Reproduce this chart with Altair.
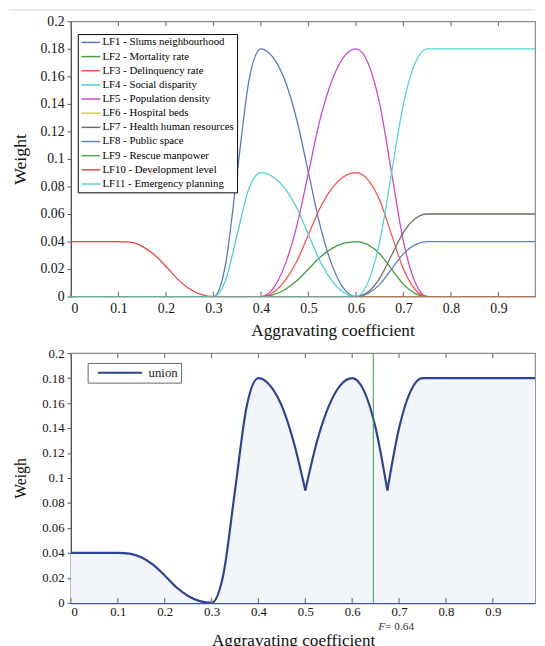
import altair as alt
import pandas as pd

SERIF = "Liberation Serif"

# ---------------- data ----------------
X = [0, 0.025, 0.05, 0.075, 0.1, 0.125, 0.15, 0.175, 0.2, 0.225, 0.25, 0.275,
     0.3, 0.325, 0.35, 0.375, 0.4, 0.425, 0.45, 0.475, 0.5, 0.525, 0.55, 0.575,
     0.6, 0.625, 0.65, 0.675, 0.7, 0.725, 0.75, 0.775, 0.8, 0.825, 0.85, 0.875,
     0.9, 0.925, 0.95, 0.975, 1.0]

LF1 = [0] * 13 + [0.0225, 0.09, 0.1575, 0.18, 0.174, 0.1575, 0.129, 0.09, 0.051, 0.0225, 0.0056] + [0] * 17
LF2 = [0] * 17 + [0.0013, 0.005, 0.0113, 0.02, 0.0288, 0.035, 0.0388, 0.04,
                  0.0378, 0.0311, 0.02, 0.0089, 0.0022] + [0] * 11
LF3 = [0] * 17 + [0.0028, 0.0113, 0.0253, 0.045, 0.0647, 0.0788, 0.0872, 0.09,
                  0.085, 0.07, 0.045, 0.02, 0.005] + [0] * 11
LF4 = [0] * 13 + [0.0113, 0.045, 0.0788, 0.09, 0.087, 0.0788, 0.0647, 0.045, 0.0253, 0.0113, 0.0028] + [0] * 17
LF5 = [0] * 17 + [0.0056, 0.0225, 0.0506, 0.09, 0.1294, 0.1575, 0.1744, 0.18,
                  0.17, 0.14, 0.09, 0.04, 0.01] + [0] * 11
LF6 = [0] * 41
LF7 = [0] * 25 + [0.0033, 0.0133, 0.03, 0.0467, 0.0567] + [0.06] * 11
LF8 = [0] * 25 + [0.0022, 0.0089, 0.02, 0.0311, 0.0378] + [0.04] * 11
LF9 = [0] * 41
LF10 = [0.04] * 5 + [0.0395, 0.0365, 0.0306, 0.022, 0.0125, 0.0055, 0.0014] + [0] * 29
LF11 = [0] * 25 + [0.01, 0.04, 0.09, 0.14, 0.17] + [0.18] * 11

UNION = ([0.04] * 5 + [0.0395, 0.0365, 0.0306, 0.022, 0.0125, 0.0055, 0.0014, 0,
                       0.0225, 0.09, 0.1575, 0.18, 0.174, 0.1575, 0.129, 0.09,
                       0.1294, 0.1575, 0.1744, 0.18, 0.17, 0.14, 0.09,
                       0.14, 0.17] + [0.18] * 11)

NAMES = ["LF1 - Slums neighbourhood", "LF2 - Mortality rate", "LF3 - Delinquency rate",
         "LF4 - Social disparity", "LF5 - Population density", "LF6 - Hospital beds",
         "LF7 - Health human resources", "LF8 - Public space", "LF9 - Rescue manpower",
         "LF10 - Development level", "LF11 - Emergency planning"]
SERIES = [LF1, LF2, LF3, LF4, LF5, LF6, LF7, LF8, LF9, LF10, LF11]
COLORS = ["#5575c5", "#3f9f3f", "#ff4d4d", "#45d3cc", "#cc44cc", "#d6cc55",
          "#6e6e62", "#5f7fc8", "#52a852", "#e04848", "#4fd8d2"]

X_TICKS = [0, 0.1, 0.2, 0.3, 0.4, 0.5, 0.6, 0.7, 0.8, 0.9]
Y_TICKS = [0, 0.02, 0.04, 0.06, 0.08, 0.1, 0.12, 0.14, 0.16, 0.18, 0.2]
F_LINE = 0.645
F_LABEL = "= 0.64"

# ---------------- tables ----------------
rows = []
for name, vals in zip(NAMES, SERIES):
    for xv, yv in zip(X, vals):
        rows.append({"x": xv, "w": yv, "s": name})
df_top = pd.DataFrame(rows)

# union split at the two sharp minima so the dips stay pointed
cut1, cut2 = X.index(0.5), X.index(0.675)
urows = []
for seg, (a, b) in enumerate([(0, cut1), (cut1, cut2), (cut2, len(X) - 1)]):
    for i in range(a, b + 1):
        urows.append({"x": X[i], "w": UNION[i], "s": "union", "seg": seg})
df_union_seg = pd.DataFrame(urows)

W = 472
H_TOP = 280
H_BOT = 254
XMAX_TOP = 0.977
XMAX_BOT = 0.99


def x_enc(xmax, title_x, title_y, label_size, label_pad, domain_color=None):
    kw = dict(values=X_TICKS, format=".2~f", title="Aggravating coefficient",
              titleX=title_x, titleY=title_y, titleBaseline="alphabetic",
              titleFontSize=17.5, ticks=False, grid=False, labelPadding=label_pad,
              labelFontSize=label_size)
    if domain_color:
        kw.update(domain=True, domainColor=domain_color, domainWidth=1.6)
    else:
        kw.update(domain=False)
    return alt.X("x:Q", scale=alt.Scale(domain=[0, xmax], nice=False), axis=alt.Axis(**kw))


def y_axis(title, size, label_size):
    return alt.Axis(values=Y_TICKS, format=".2~f", title=title, titleX=-46,
                    titleBaseline="alphabetic", titleFontSize=size, grid=False,
                    ticks=True, tickSize=4, tickColor="#555", labelPadding=3,
                    domain=True, domainColor="#555", domainWidth=1.2,
                    labelFontSize=label_size)


def inner_ticks(h):
    d = pd.DataFrame({"x": X_TICKS})
    top = alt.Chart(d).mark_rule(color="#808080", strokeWidth=1.3).encode(
        x="x:Q", y=alt.value(0), y2=alt.value(5))
    bot = alt.Chart(d).mark_rule(color="#808080", strokeWidth=1.3).encode(
        x="x:Q", y=alt.value(h), y2=alt.value(h - 5))
    return top + bot


# ---------------- top chart ----------------
deco = alt.Chart(pd.DataFrame({"a": [0]})).mark_rule(color="#d3d6db", strokeWidth=1.2).encode(
    x=alt.value(-62.7), x2=alt.value(W), y=alt.value(-11.5))

lines = alt.Chart(df_top).mark_line(strokeWidth=1.3, interpolate="monotone", clip=True).encode(
    x=x_enc(XMAX_TOP, 266, 40, 14, 5),
    y=alt.Y("w:Q", scale=alt.Scale(domain=[0, 0.2], nice=False),
            axis=y_axis("Weight", 18, 14)),
    color=alt.Color("s:N", scale=alt.Scale(domain=NAMES, range=COLORS),
                    legend=alt.Legend(orient="none", legendX=7, legendY=13, title=None,
                                      symbolType="M-1,0H3", symbolSize=90,
                                      symbolStrokeWidth=1.5, labelFont=SERIF,
                                      labelFontSize=11, labelColor="black",
                                      labelOffset=11, padding=3, rowPadding=2.4,
                                      symbolOffset=0,
                                      strokeColor="black", fillColor="white")),
)

top = alt.layer(lines, inner_ticks(H_TOP), deco).properties(width=W, height=H_TOP)

# ---------------- bottom chart ----------------
xb = x_enc(XMAX_BOT, 226, 43, 13, 3, domain_color="#3b55a8")
yb = alt.Y("w:Q", scale=alt.Scale(domain=[0, 0.2], nice=False), stack=None,
           axis=y_axis("Weigh", 16, 13))

area = alt.Chart(df_union_seg).mark_area(interpolate="monotone", fill="#f2f5fa",
                                         clip=True).encode(x=xb, y=yb, detail="seg:N")
uline = alt.Chart(df_union_seg).mark_line(strokeWidth=2.2, interpolate="monotone", clip=True).encode(
    x=xb, y=yb, detail="seg:N",
    color=alt.Color("s:N", scale=alt.Scale(domain=["union"], range=["#2c4294"]),
                    legend=alt.Legend(orient="none", legendX=17, legendY=10, title=None,
                                      symbolType="M-1,0H7", symbolSize=127,
                                      symbolStrokeWidth=2, labelFont=SERIF,
                                      labelFontSize=13, labelColor="#222",
                                      labelOffset=39, padding=3, symbolOffset=6,
                                      strokeColor="#666", fillColor="white")),
)
fdf = pd.DataFrame({"x": [F_LINE]})
frule = alt.Chart(fdf).mark_rule(color="#3a9e3a", strokeWidth=1).encode(x="x:Q")
ftext1 = alt.Chart(fdf).mark_text(text="F", fontStyle="italic", align="left", dx=5,
                                  baseline="middle", fontSize=11.5, font=SERIF,
                                  color="#333").encode(x="x:Q", y=alt.value(H_BOT + 25))
ftext2 = alt.Chart(fdf).mark_text(text=F_LABEL, align="left", dx=12,
                                  baseline="middle", fontSize=11.5, font=SERIF,
                                  color="#333").encode(x="x:Q", y=alt.value(H_BOT + 25))

bottom = alt.layer(area, uline, frule, ftext1, ftext2,
                   inner_ticks(H_BOT)).properties(width=W, height=H_BOT)

chart = alt.vconcat(top, bottom, spacing=5.5).resolve_scale(
    x="independent", y="independent", color="independent"
).properties(
    padding={"top": -5, "left": 0, "right": 0, "bottom": 0},
    background="white"
).configure_view(
    stroke="#8a8a8a", strokeWidth=1.2
).configure_axis(
    labelFont=SERIF, titleFont=SERIF, labelColor="#111", titleColor="#111",
    titleFontWeight="normal", labelFontSize=14
)

chart.save("out.html", embed_options={"renderer": "svg", "actions": False})
